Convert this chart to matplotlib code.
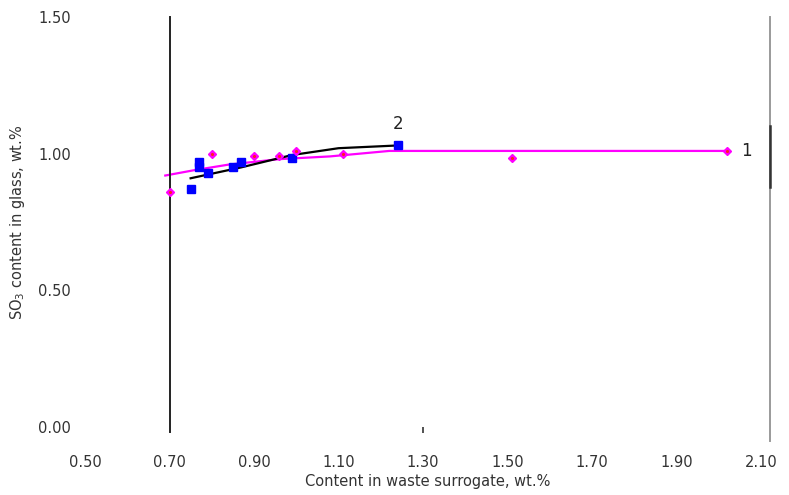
import numpy as np
import matplotlib
matplotlib.use('Agg')
from matplotlib import pyplot as plt
from matplotlib.ticker import FixedLocator

# series 1 (magenta diamonds) and its trend line
s1_x = [0.70, 0.80, 0.90, 0.96, 1.00, 1.11, 1.51, 2.02]
s1_y = [0.86, 1.00, 0.99, 0.99, 1.01, 1.00, 0.985, 1.01]
fit1_x = [0.69, 0.76, 0.84, 0.96, 1.08, 1.22, 2.02]
fit1_y = [0.92, 0.94, 0.96, 0.98, 0.99, 1.01, 1.01]

# series 2 (blue squares) and its trend line
s2_x = [0.75, 0.77, 0.77, 0.79, 0.85, 0.87, 0.99, 1.24]
s2_y = [0.87, 0.97, 0.95, 0.93, 0.95, 0.97, 0.985, 1.03]
fit2_x = [0.75, 0.87, 0.99, 1.10, 1.24]
fit2_y = [0.91, 0.95, 0.995, 1.02, 1.03]

x_ticks = [0.50, 0.70, 0.90, 1.10, 1.30, 1.50, 1.70, 1.90, 2.10]
y_ticks = [0.00, 0.50, 1.00, 1.50]

plt.rcParams['font.family'] = ['DejaVu Sans']

fig = plt.figure(figsize=(7.89, 4.95), dpi=100)
ax = fig.add_axes([85 / 789, 1 - 427 / 495, (769.5 - 85) / 789, (427 - 17) / 495])

ax.plot(fit1_x, fit1_y, color='#ff00ff', lw=1.6, zorder=2)
ax.plot(fit2_x, fit2_y, color='black', lw=1.6, zorder=3)
ax.plot(s2_x, s2_y, ls='none', marker='s', ms=6, color='#0000ff', zorder=4)
ax.plot(s1_x, s1_y, ls='none', marker='D', ms=4.5, color='#ff00ff',
        markeredgecolor='#ff00ff', zorder=5)
ax.plot(s1_x, s1_y, ls='none', marker='.', ms=2.5, color='#ff2020', zorder=6)

ax.text(s2_x[-1], s2_y[-1] + 0.08, '2', fontsize=12, ha='center', va='center', color='#222222')
ax.text(s1_x[-1] + 0.045, s1_y[-1], '1', fontsize=12, ha='center', va='center', color='#222222')

ax.set_xlim(0.50, 2.12)
ax.set_ylim(0.0, 1.50)

ax.spines['top'].set_visible(False)
ax.spines['bottom'].set_visible(False)
ax.spines['left'].set_position(('data', 0.70))
ax.spines['left'].set_bounds(-0.02, 1.50)
ax.spines['left'].set_linewidth(1.4)
ax.spines['left'].set_color('#222222')
ax.spines['right'].set_color('#9a9a9a')
ax.spines['right'].set_linewidth(1.4)
ax.spines['right'].set_bounds(-0.05, 1.50)
# darker bit of the right frame
ax.axvline(2.12, ymin=0.585, ymax=0.735, color='#333333', lw=1.8, clip_on=False, zorder=7)

ax.xaxis.remove_overlapping_locs = False
ax.xaxis.set_major_locator(FixedLocator(x_ticks))
ax.xaxis.set_minor_locator(FixedLocator([1.30]))
ax.set_xticklabels(['%.2f' % v for v in x_ticks])
ax.set_yticks(y_ticks)
ax.set_yticklabels(['%.2f' % v for v in y_ticks])
ax.tick_params(axis='x', which='major', length=0, pad=20, labelsize=10.5, labelcolor='#333333')
ax.tick_params(axis='x', which='minor', length=4, width=1.2, color='#333333')
ax.tick_params(axis='y', length=0, pad=71, labelsize=10.5, labelcolor='#333333')

ax.set_xlabel('Content in waste surrogate, wt.%', fontsize=10.5, color='#333333', labelpad=3)
fig.text(18 / 789, 1 - 222 / 495, 'SO$_3$ content in glass, wt.%', rotation=90,
         fontsize=10.5, color='#333333', ha='center', va='center')

fig.savefig('out.png', dpi=100)
